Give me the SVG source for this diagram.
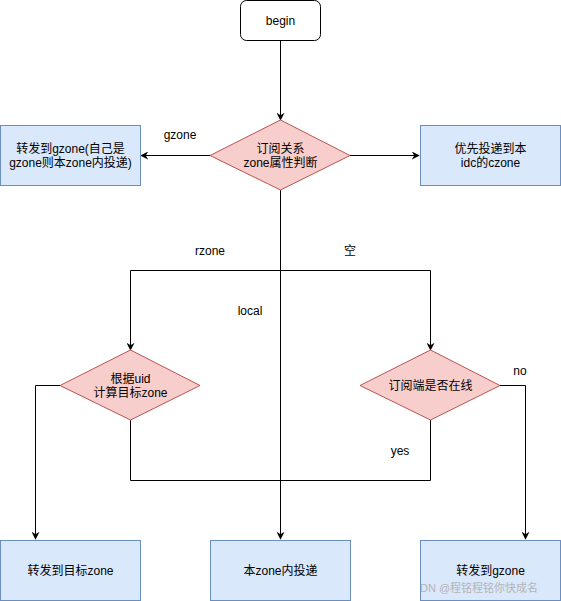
<svg xmlns="http://www.w3.org/2000/svg" width="561" height="601" viewBox="0 0 561 601">
<style>
text{font-family:"Liberation Sans","Noto Sans CJK SC",sans-serif;font-size:12px;fill:#000;text-anchor:middle;dominant-baseline:central}
.box{fill:#dae8fc;stroke:#6c8ebf;stroke-width:1}
.dia{fill:#f8cecc;stroke:#b85450;stroke-width:1}
.ln{fill:none;stroke:#000;stroke-width:1}
.wm{fill:#b4b4b4;font-size:11px;text-anchor:start}
</style>
<defs>
<marker id="arr" viewBox="0 0 10 10" refX="9" refY="5" markerWidth="8" markerHeight="8" markerUnits="userSpaceOnUse" orient="auto">
<path d="M0,0 L10,5 L0,10 L3,5 Z" fill="#000"/>
</marker>
</defs>
<rect width="561" height="601" fill="#fff"/>
<g id="connectors">
<path class="ln" d="M280.5,40 V120" marker-end="url(#arr)"/>
<path class="ln" d="M210,155.5 H141" marker-end="url(#arr)"/>
<path class="ln" d="M350,155.5 H419" marker-end="url(#arr)"/>
<path class="ln" d="M280.5,190 V539" marker-end="url(#arr)"/>
<path class="ln" d="M280.5,270.5 H130.5 V350" marker-end="url(#arr)"/>
<path class="ln" d="M280.5,270.5 H430.5 V350" marker-end="url(#arr)"/>
<path class="ln" d="M60,385.5 H35.5 V539" marker-end="url(#arr)"/>
<path class="ln" d="M130.5,420 V480.5 H430.5 V420"/>
<path class="ln" d="M500,385.5 H525.5 V539" marker-end="url(#arr)"/>
<text x="180" y="135">gzone</text>
<text x="210" y="251">rzone</text>
<text x="350" y="251">空</text>
<text x="250" y="311">local</text>
<text x="400" y="451">yes</text>
<text x="520" y="371">no</text>
</g>
<g id="begin">
<rect x="240.5" y="0.5" width="80" height="40" rx="6" fill="#fff" stroke="#000"/>
<text x="280.5" y="20.5">begin</text>
</g>
<g id="judge">
<polygon class="dia" points="280.5,120 350,155.5 280.5,190 210,155.5"/>
<text x="280.5" y="149">订阅关系</text>
<text x="280.5" y="163">zone属性判断</text>
</g>
<g id="gzone">
<rect class="box" x="0.5" y="125.5" width="140" height="60"/>
<text x="70.5" y="149">转发到gzone(自己是</text>
<text x="70.5" y="163">gzone则本zone内投递)</text>
</g>
<g id="czone">
<rect class="box" x="420.5" y="125.5" width="140" height="60"/>
<text x="490.5" y="149">优先投递到本</text>
<text x="490.5" y="163">idc的czone</text>
</g>
<g id="calc">
<polygon class="dia" points="130.5,350 200,385.5 130.5,420 60,385.5"/>
<text x="130.5" y="379">根据uid</text>
<text x="130.5" y="393">计算目标zone</text>
</g>
<g id="online">
<polygon class="dia" points="430.5,350 500,385.5 430.5,420 360,385.5"/>
<text x="430.5" y="385.5">订阅端是否在线</text>
</g>
<g id="target">
<rect class="box" x="0.5" y="540.5" width="140" height="60"/>
<text x="70.5" y="570.5">转发到目标zone</text>
</g>
<g id="local">
<rect class="box" x="210.5" y="540.5" width="140" height="60"/>
<text x="280.5" y="570.5">本zone内投递</text>
</g>
<g id="togzone">
<rect class="box" x="420.5" y="540.5" width="140" height="60"/>
<text x="490.5" y="570.5">转发到gzone</text>
</g>
<text class="wm" x="420" y="588">DN @程铭程铭你快成名</text>
</svg>
